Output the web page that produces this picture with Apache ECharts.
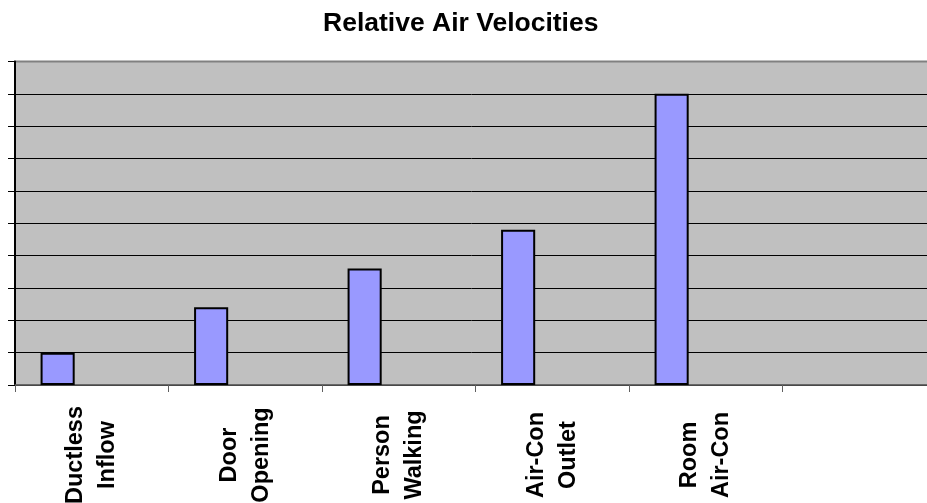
<!DOCTYPE html>
<html>
<head>
<meta charset="utf-8">
<script src="https://cdn.jsdelivr.net/npm/echarts@6/dist/echarts.min.js"></script>
<style>
  html, body { margin: 0; padding: 0; background: #fff; }
  #chart { width: 927px; height: 503px; }
</style>
</head>
<body>
<div id="chart"></div>
<script>
const chartTitle = 'Relative Air Velocities';
const categories = ['Ductless\nInflow', 'Door\nOpening', 'Person\nWalking', 'Air-Con\nOutlet', 'Room\nAir-Con', ''];
const velocities = [1, 2.4, 3.6, 4.8, 9];
const emptySeriesB = [];
const emptySeriesC = [];
const yMin = 0;
const yMax = 10;
const yStep = 1;

const chart = echarts.init(document.getElementById('chart'), null, { renderer: 'canvas' });
const font = '"Liberation Sans", Arial, sans-serif';
const barStyle = { color: '#9999FF', borderColor: '#000000', borderWidth: 2 };

chart.setOption({
  animation: false,
  backgroundColor: '#ffffff',
  title: {
    text: chartTitle,
    left: 318,
    top: 5,
    textStyle: { fontFamily: font, fontSize: 26.5, fontWeight: 'bold', color: '#000' }
  },
  grid: {
    left: 15, right: -9, top: 61.5, bottom: 118,
    containLabel: false,
    outerBoundsMode: 'none',
    show: true,
    backgroundColor: '#C0C0C0',
    borderColor: '#808080',
    borderWidth: 2
  },
  xAxis: {
    type: 'category',
    data: categories,
    boundaryGap: true,
    axisLine: { show: true, lineStyle: { color: '#606060', width: 1.5 } },
    axisTick: { show: true, length: 7, interval: 0, lineStyle: { color: '#606060', width: 1 } },
    axisLabel: {
      interval: 0,
      rotate: 90,
      align: 'center',
      verticalAlign: 'middle',
      margin: 70,
      fontFamily: font,
      fontSize: 23.5,
      fontWeight: 'bold',
      lineHeight: 32,
      color: '#000'
    },
    splitLine: { show: false }
  },
  yAxis: {
    type: 'value',
    min: yMin,
    max: yMax,
    interval: yStep,
    axisLine: { show: true, lineStyle: { color: '#000', width: 2 } },
    axisTick: { show: true, length: 7, lineStyle: { color: '#000', width: 1 } },
    axisLabel: { show: false },
    splitLine: { show: true, showMaxLine: false, lineStyle: { color: '#000', width: 1 } }
  },
  series: [
    { name: 'A', type: 'bar', data: velocities, itemStyle: barStyle, barGap: '0%', barCategoryGap: '33.33%' },
    { name: 'B', type: 'bar', data: emptySeriesB, itemStyle: barStyle, barGap: '0%', barCategoryGap: '33.33%' },
    { name: 'C', type: 'bar', data: emptySeriesC, itemStyle: barStyle, barGap: '0%', barCategoryGap: '33.33%' }
  ]
});
</script>
</body>
</html>
